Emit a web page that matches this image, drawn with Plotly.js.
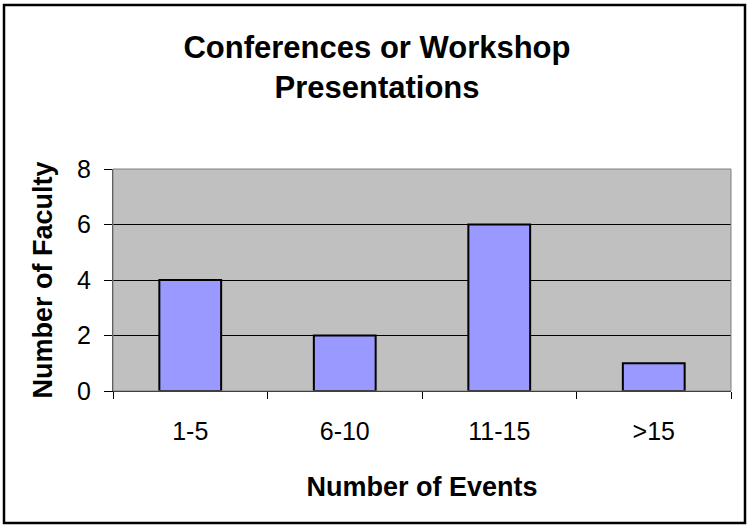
<!DOCTYPE html>
<html>
<head>
<meta charset="utf-8">
<script src="https://cdn.plot.ly/plotly-3.0.1.min.js"></script>
<style>
html,body{margin:0;padding:0;background:#fff;}
#chart{width:747px;height:525px;}
</style>
</head>
<body>
<div id="chart"></div>
<script>
var categories = ["1-5", "6-10", "11-15", ">15"];
var faculty = [4, 2, 6, 1];
var yTicks = [0, 2, 4, 6, 8];

var FONT = "Liberation Sans, Arial, sans-serif";

var trace = {
  type: "bar",
  x: categories,
  y: faculty,
  width: 0.4,
  marker: {color: "#9999FF", line: {color: "#000000", width: 2}},
  hoverinfo: "x+y"
};

var layout = {
  width: 747,
  height: 525,
  margin: {l: 113, r: 16, t: 169, b: 134},
  paper_bgcolor: "#FFFFFF",
  plot_bgcolor: "#C0C0C0",
  showlegend: false,
  font: {family: FONT, color: "#000000"},
  title: {
    text: "<b>Conferences or Workshop<br>Presentations</b>",
    font: {family: FONT, size: 31, color: "#000000"},
    x: 377 / 747, xanchor: "center",
    xref: "container",
    yref: "container", y: 0.89, yanchor: "top"
  },
  xaxis: {
    type: "category",
    range: [-0.5, 3.5],
    showgrid: false,
    showline: true, linecolor: "#000000", linewidth: 1,
    ticks: "outside", ticklen: 7, tickcolor: "#000000", tickwidth: 1,
    tickson: "boundaries",
    ticklabelstandoff: 18,
    tickfont: {family: FONT, size: 25, color: "#000000"},
    title: {text: "<b>Number of Events</b>", font: {family: FONT, size: 27, color: "#000000"}, standoff: 33},
    fixedrange: true
  },
  yaxis: {
    range: [0, 8],
    tickvals: yTicks,
    showgrid: true, gridcolor: "#000000", gridwidth: 1,
    zeroline: false,
    showline: true, linecolor: "#404040", linewidth: 1,
    ticks: "outside", ticklen: 8, tickcolor: "#000000", tickwidth: 1,
    ticklabelstandoff: 8,
    tickfont: {family: FONT, size: 25, color: "#000000"},
    title: {text: "<b>Number of Faculty</b>", font: {family: FONT, size: 27, color: "#000000"}, standoff: 16},
    fixedrange: true
  },
  shapes: [
    {type: "rect", xref: "paper", yref: "paper", x0: 0, x1: 1, y0: 0, y1: 1,
     line: {color: "#808080", width: 1}, fillcolor: "rgba(0,0,0,0)", layer: "above"},
    {type: "rect", xref: "paper", yref: "paper",
     x0: (4 - 113) / 618, x1: (745 - 113) / 618,
     y0: (391 - 523) / 222, y1: (391 - 5) / 222,
     line: {color: "#000000", width: 2.5}, fillcolor: "rgba(0,0,0,0)", layer: "above"}
  ]
};

Plotly.newPlot("chart", [trace], layout, {displayModeBar: false, staticPlot: true});
</script>
</body>
</html>
